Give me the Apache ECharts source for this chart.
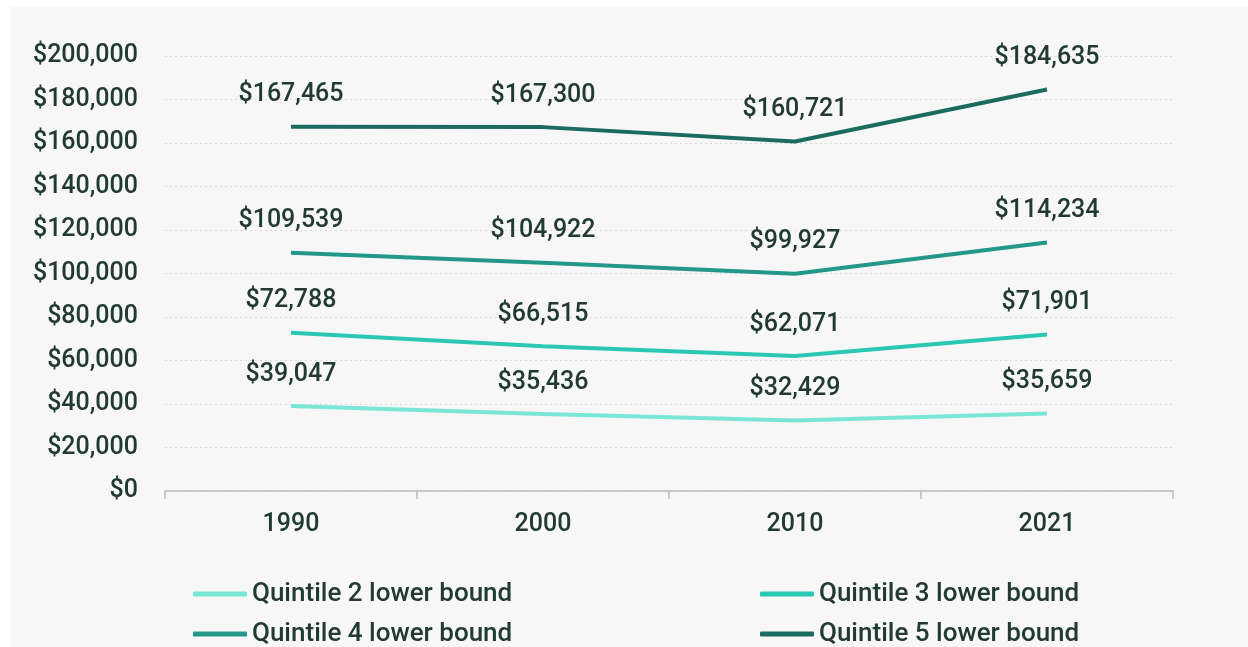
<!DOCTYPE html>
<html><head><meta charset="utf-8">
<script src="https://cdn.jsdelivr.net/npm/echarts@6/dist/echarts.min.js"></script>
<style>
html,body{margin:0;padding:0;background:#fff;width:1248px;height:647px;overflow:hidden}
#c{position:absolute;left:11px;top:7px;width:1237px;height:640px;background:#f7f7f7}
</style></head><body><div id="c"></div>
<script>
const categories = ['1990', '2000', '2010', '2021'];
const q2 = [39047, 35436, 32429, 35659];
const q3 = [72788, 66515, 62071, 71901];
const q4 = [109539, 104922, 99927, 114234];
const q5 = [167465, 167300, 160721, 184635];
const seriesNames = ['Quintile 2 lower bound', 'Quintile 3 lower bound', 'Quintile 4 lower bound', 'Quintile 5 lower bound'];
const colors = ['#7ae6d6', '#2ac8b4', '#22978a', '#1b6b5f'];
const txt = '#213a33';
const font = 'Roboto';
const fs = 25;
const fw = 500;
const fmt = v => '$' + v.toLocaleString('en-US');

const chart = echarts.init(document.getElementById('c'));
const mk = (name, data, color) => ({
  name, type: 'line', data, symbol: 'circle', symbolSize: 0.1, showSymbol: true,
  lineStyle: { color, width: 4 }, itemStyle: { color: 'rgba(0,0,0,0)', borderWidth: 0 },
  label: { show: true, position: 'top', distance: 19, formatter: p => fmt(p.value),
    color: txt, fontFamily: font, fontSize: fs, fontWeight: fw },
  labelLayout: { hideOverlap: false }
});
const legendText = { color: txt, fontFamily: font, fontSize: 26, fontWeight: fw, lineHeight: 26 };
const lg = (name, left, top, color) => ({
  data: [{ name, itemStyle: { color, opacity: 1 } }], left, top, orient: 'horizontal',
  itemWidth: 54, itemHeight: 5, icon: 'roundRect', textStyle: legendText, padding: 0
});
chart.setOption({
  animation: false,
  backgroundColor: '#f7f7f7',
  color: colors,
  grid: { left: 154, right: 75, top: 49, bottom: 156, containLabel: false },
  xAxis: {
    type: 'category', data: categories, boundaryGap: true,
    axisLine: { lineStyle: { color: '#b9b9b9', width: 1.5 } },
    axisTick: { show: true, length: 8, lineStyle: { color: '#b9b9b9', width: 1.5 } },
    axisLabel: { color: txt, fontFamily: font, fontSize: fs, fontWeight: fw, margin: 21 }
  },
  yAxis: {
    type: 'value', min: 0, max: 200000, interval: 20000,
    axisLine: { show: false }, axisTick: { show: false },
    axisLabel: { color: txt, fontFamily: font, fontSize: fs, fontWeight: fw, margin: 27, formatter: v => fmt(v) },
    splitLine: { lineStyle: { color: '#dadada', type: [2, 3], width: 1 } }
  },
  legend: [
    lg(seriesNames[0], 182, 574, colors[0]),
    lg(seriesNames[2], 182, 614, colors[2]),
    lg(seriesNames[1], 749, 574, colors[1]),
    lg(seriesNames[3], 749, 614, colors[3])
  ],
  series: [
    mk(seriesNames[0], q2, colors[0]),
    mk(seriesNames[1], q3, colors[1]),
    mk(seriesNames[2], q4, colors[2]),
    mk(seriesNames[3], q5, colors[3])
  ]
});
</script></body></html>
